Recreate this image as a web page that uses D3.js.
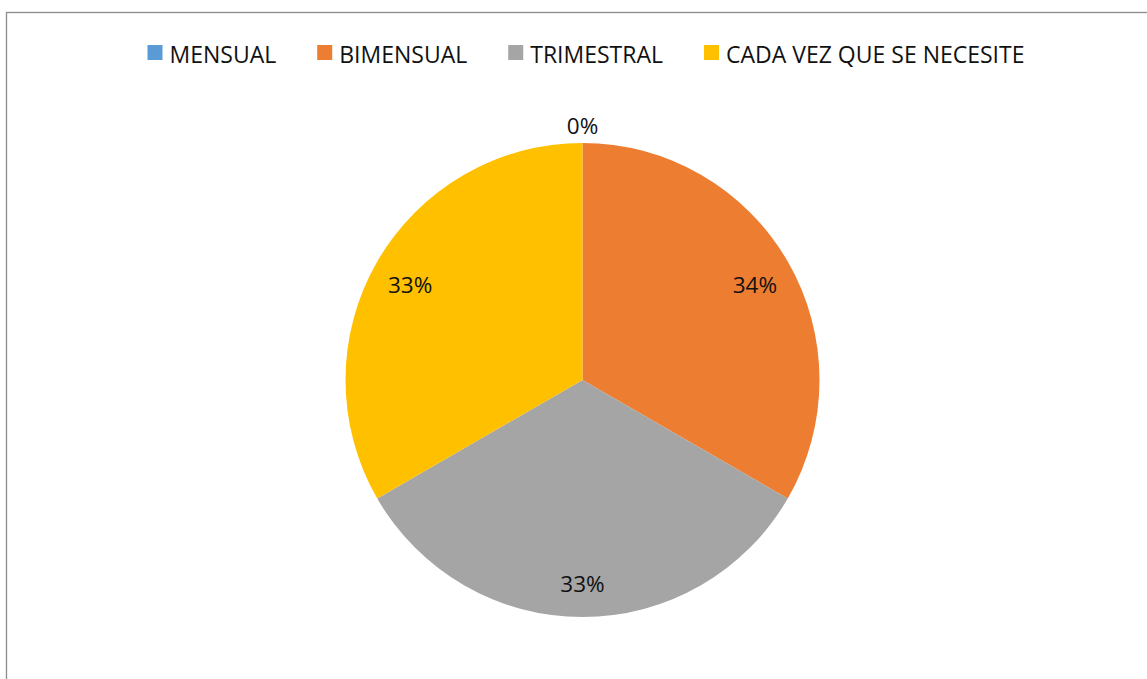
<!DOCTYPE html>
<html>
<head>
<meta charset="utf-8">
<script src="https://cdn.jsdelivr.net/npm/d3@7"></script>
<style>
  html, body { margin: 0; padding: 0; background: #fff; }
  svg { display: block; }
  text { font-family: "Open Sans", "Liberation Sans", sans-serif; fill: #111; }
</style>
</head>
<body>
<svg id="chart" width="1147" height="679"></svg>
<script>
const categories = ["MENSUAL", "BIMENSUAL", "TRIMESTRAL", "CADA VEZ QUE SE NECESITE"];
const values = [0, 1, 1, 1];
const colors = ["#5B9BD5", "#ED7D31", "#A5A5A5", "#FFC000"];

// Percentages rounded so they sum to 100 (largest remainder)
const total = d3.sum(values);
const raw = values.map(v => v / total * 100);
const floors = raw.map(Math.floor);
let rest = 100 - d3.sum(floors);
const order = d3.range(raw.length).sort((a, b) => (raw[b] - floors[b]) - (raw[a] - floors[a]) || a - b);
const pcts = floors.slice();
for (let i = 0; i < rest; i++) pcts[order[i]] += 1;

const svg = d3.select("#chart");
const W = 1147, H = 679;

// chart area border
svg.append("rect")
  .attr("x", 6.5).attr("y", 12.5)
  .attr("width", W + 20).attr("height", H + 20)
  .attr("fill", "none").attr("stroke", "#8c8c8c").attr("stroke-width", 1.3);

// Pie
const cx = 582.5, cy = 380, r = 237;
const g = svg.append("g").attr("transform", `translate(${cx},${cy})`);
const pie = d3.pie().value(d => d.value).sort(null);
const data = categories.map((c, i) => ({ cat: c, value: values[i], color: colors[i], pct: pcts[i] }));
const arcs = pie(data);
const arc = d3.arc().innerRadius(0).outerRadius(r);

g.selectAll("path.slice").data(arcs).enter().append("path")
  .attr("class", "slice")
  .attr("d", arc)
  .attr("fill", d => d.data.color);

const labelArc = d3.arc().innerRadius(r * 0.84).outerRadius(r * 0.84);
const outerArc = d3.arc().innerRadius(r + 18).outerRadius(r + 18);
g.selectAll("text.lbl").data(arcs).enter().append("text")
  .attr("class", "lbl")
  .attr("transform", d => {
    const empty = (d.endAngle - d.startAngle) < 1e-6;
    const p = empty ? outerArc.centroid(d) : labelArc.centroid(d);
    return `translate(${p[0]},${p[1] + (empty ? 0 : 4)})`;
  })
  .attr("text-anchor", "middle")
  .attr("dominant-baseline", "central")
  .attr("font-size", 22.5)
  .text(d => d.data.pct + "%");

// Legend
const legend = svg.append("g");
const sq = 15, gapText = 7, gapItem = 41, fs = 23;
let x = 0;
data.forEach((d, i) => {
  const it = legend.append("g");
  it.append("rect").attr("x", 0).attr("y", -sq / 2).attr("width", sq).attr("height", sq).attr("fill", d.color);
  const t = it.append("text").attr("x", sq + gapText).attr("y", 1)
    .attr("dominant-baseline", "central").attr("font-size", fs).text(d.cat);
  const w = sq + gapText + t.node().getComputedTextLength();
  it.attr("transform", `translate(${x},0)`);
  x += w + gapItem;
});
const totalW = x - gapItem;
legend.attr("transform", `translate(${586 - totalW / 2},52.5)`);
</script>
</body>
</html>
